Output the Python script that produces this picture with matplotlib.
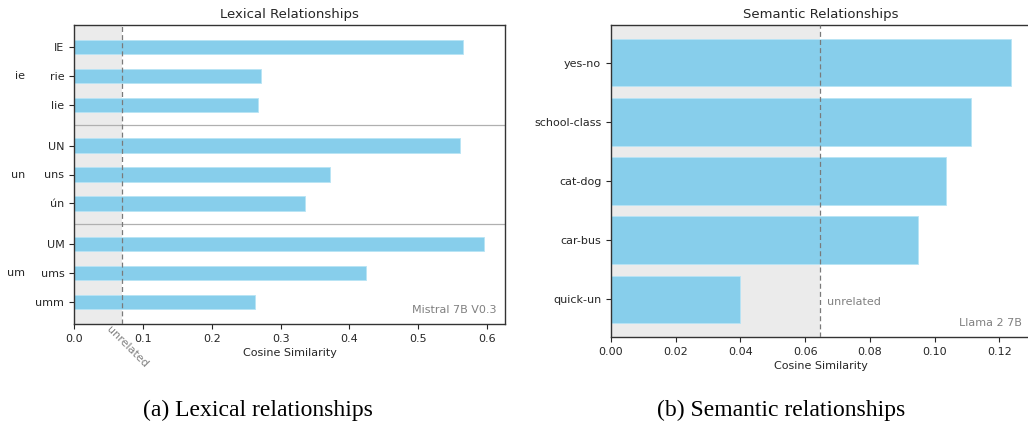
import matplotlib
matplotlib.use("Agg")
import matplotlib.pyplot as plt
import matplotlib.transforms as mtransforms

# Lexical relationships (Mistral 7B V0.3)
lex_groups = ["ie", "un", "um"]
lex_labels = [["IE", "rie", "lie"], ["UN", "uns", "ún"], ["UM", "ums", "umm"]]
lex_values = [[0.565, 0.271, 0.267], [0.561, 0.372, 0.335], [0.596, 0.424, 0.263]]
lex_unrelated = 0.07
lex_xticks = [0.0, 0.1, 0.2, 0.3, 0.4, 0.5, 0.6]

# Semantic relationships (Llama 2 7B)
sem_labels = ["yes-no", "school-class", "cat-dog", "car-bus", "quick-un"]
sem_values = [0.1236, 0.1113, 0.1034, 0.0949, 0.0399]
sem_unrelated = 0.0646
sem_xticks = [0.00, 0.02, 0.04, 0.06, 0.08, 0.10, 0.12]

BAR = "#87ceeb"
SHADE = "#ebebeb"
TEXT = "#262626"
NOTE = "#808080"
TICK_FS = 8

fig = plt.figure(figsize=(10.28, 4.22), dpi=100)

# ---------------- left panel ----------------
ax1 = fig.add_axes([74 / 1028, 1 - 324 / 422, 431 / 1028, 299 / 422])
group_gap = 0.4
positions, labels, values, group_centers, separators = [], [], [], [], []
for g, (labs, vals) in enumerate(zip(lex_labels, lex_values)):
    base = g * (len(labs) + group_gap)
    pos = [base + j for j in range(len(labs))]
    positions += pos
    labels += labs
    values += vals
    group_centers.append(sum(pos) / len(pos))
    if g > 0:
        separators.append(base - 0.5 - group_gap / 2)

ax1.axvspan(0, lex_unrelated, color=SHADE, zorder=0, lw=0)
ax1.barh(positions, values, height=0.5, color=BAR, edgecolor="#b8e4f5",
         linewidth=0.6, zorder=2)
ax1.axvline(lex_unrelated, color="#7a7a7a", ls=(0, (4, 2.5)), lw=0.9, zorder=3)
for s in separators:
    ax1.axhline(s, color="#b0b0b0", lw=0.9, zorder=1)

ax1.set_yticks(positions)
ax1.set_yticklabels(labels)
ax1.set_ylim(positions[-1] + 0.76, positions[0] - 0.76)
ax1.set_xlim(0, max(values) * 1.05)
ax1.set_xticks(lex_xticks)
ax1.set_xticklabels([f"{t:.1f}" for t in lex_xticks])
ax1.set_xlabel("Cosine Similarity", fontsize=TICK_FS, color=TEXT, labelpad=3)
ax1.set_title("Lexical Relationships", fontsize=9.5, color=TEXT, pad=5)

# group names to the left of the tick labels
trans = mtransforms.blended_transform_factory(ax1.transAxes, ax1.transData)
for gname, c in zip(lex_groups, group_centers):
    ax1.text(-0.1137, c, gname, transform=trans, ha="right", va="center",
             fontsize=TICK_FS, color=TEXT)

trans_x = mtransforms.blended_transform_factory(ax1.transData, ax1.transAxes)
ax1.text(lex_unrelated + 0.0075, -0.077, "unrelated", transform=trans_x,
         rotation=-45, ha="center", va="center", fontsize=TICK_FS, color=NOTE)
ax1.text(0.98, 0.03, "Mistral 7B V0.3", transform=ax1.transAxes, ha="right",
         va="bottom", fontsize=TICK_FS, color=NOTE)

# ---------------- right panel ----------------
ax2 = fig.add_axes([611 / 1028, 1 - 337 / 422, 420 / 1028, 312 / 422])
ypos = list(range(len(sem_labels)))
ax2.axvspan(0, sem_unrelated, color=SHADE, zorder=0, lw=0)
ax2.barh(ypos, sem_values, height=0.8, color=BAR, edgecolor="#b8e4f5",
         linewidth=0.6, zorder=2)
ax2.axvline(sem_unrelated, color="#7a7a7a", ls=(0, (4, 2.5)), lw=0.9, zorder=3)
ax2.set_yticks(ypos)
ax2.set_yticklabels(sem_labels)
ax2.set_ylim(len(sem_labels) - 1 + 0.64, -0.64)
ax2.set_xlim(0, max(sem_values) * 1.05)
ax2.set_xticks(sem_xticks)
ax2.set_xticklabels([f"{t:.2f}" for t in sem_xticks])
ax2.set_xlabel("Cosine Similarity", fontsize=TICK_FS, color=TEXT, labelpad=3)
ax2.set_title("Semantic Relationships", fontsize=9.5, color=TEXT, pad=5)
ax2.text(sem_unrelated + 0.0021, ypos[-1] + 0.05, "unrelated", ha="left",
         va="center", fontsize=TICK_FS, color=NOTE, zorder=4)
ax2.text(0.985 * (1028 - 611) / 420, 0.03, "Llama 2 7B",
         transform=ax2.transAxes, ha="right", va="bottom", fontsize=TICK_FS,
         color=NOTE)

for ax in (ax1, ax2):
    ax.tick_params(labelsize=TICK_FS, colors=TEXT, length=3.5, width=0.8)
    for sp in ax.spines.values():
        sp.set_color("#333333")
        sp.set_linewidth(1.0)

# captions
cap_font = dict(family="Liberation Serif", fontsize=17, color="black",
                ha="center", va="center")
fig.text(258 / 1028, 1 - 410 / 422, "(a) Lexical relationships", **cap_font)
fig.text(781 / 1028, 1 - 410 / 422, "(b) Semantic relationships", **cap_font)

fig.savefig("out.png", dpi=100)
